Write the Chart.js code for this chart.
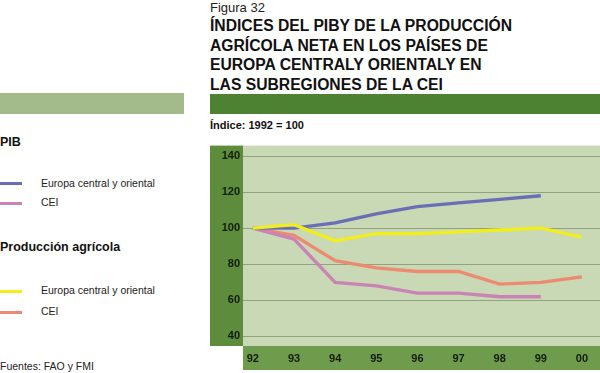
<!DOCTYPE html>
<html>
<head>
<meta charset="utf-8">
<script src="https://cdn.jsdelivr.net/npm/chart.js@4"></script>
<style>
  html, body { margin: 0; padding: 0; background: #fff; }
  body { width: 600px; height: 373px; position: relative; overflow: hidden; font-family: "Liberation Sans", Arial, sans-serif; color: #111; }
  .abs { position: absolute; white-space: nowrap; }
  #figura { left: 210px; top: 0px; font-size: 13px; color: #222; }
  #titulo { left: 210px; top: 16px; font-size: 16px; font-weight: bold; line-height: 19.5px; color: #111; transform-origin: 0 0; transform: scaleX(0.98); }
  #barraTitulo { left: 210px; top: 94px; width: 390px; height: 20px; background: #4c8232; }
  #barraIzq { left: 0; top: 93px; width: 184px; height: 21px; background: #a3ba8b; }
  #indice { left: 210px; top: 119px; font-size: 11px; font-weight: bold; }
  .leyTit { left: 0; font-size: 12.5px; font-weight: bold; }
  .leyTxt { left: 41px; font-size: 10.5px; color: #222; }
  .muestra { left: 0; width: 22px; height: 3px; }
  #fuentes { left: 0; top: 360px; font-size: 10.5px; color: #222; }
  #grafico { position: absolute; left: 210px; top: 136px; width: 390px; height: 234px; }
</style>
</head>
<body>
<div class="abs" id="figura">Figura 32</div>
<div class="abs" id="titulo">ÍNDICES DEL PIBY DE LA PRODUCCIÓN<br>AGRÍCOLA NETA EN LOS PAÍSES DE<br>EUROPA CENTRALY ORIENTALY EN<br>LAS SUBREGIONES DE LA CEI</div>
<div class="abs" id="barraTitulo"></div>
<div class="abs" id="barraIzq"></div>
<div class="abs" id="indice">Índice: 1992 = 100</div>

<div class="abs leyTit" style="top:135px">PIB</div>
<div class="abs muestra" style="top:182px;background:#6a6fb5"></div>
<div class="abs leyTxt" style="top:177px">Europa central y oriental</div>
<div class="abs muestra" style="top:202px;background:#c983b4"></div>
<div class="abs leyTxt" style="top:196px">CEI</div>
<div class="abs leyTit" style="top:240px">Producción agrícola</div>
<div class="abs muestra" style="top:290px;background:#f2ee1e"></div>
<div class="abs leyTxt" style="top:284px">Europa central y oriental</div>
<div class="abs muestra" style="top:311px;background:#ec8a72"></div>
<div class="abs leyTxt" style="top:305px">CEI</div>
<div class="abs" id="fuentes">Fuentes: FAO y FMI</div>

<div id="grafico"><canvas id="c"></canvas></div>

<script>
// years 1992..2000 as numbers (92..100)
const anos = [92, 93, 94, 95, 96, 97, 98, 99, 100];
const pibEuropa = [100, 100, 103, 108, 112, 114, 116, 118];
const pibCEI = [100, 94, 70, 68, 64, 64, 62, 62];
const agrEuropa = [100, 102, 93, 97, 97, 98, 99, 100, 95];
const agrCEI = [100, 96, 82, 78, 76, 76, 69, 70, 73];
const yTicks = [40, 60, 80, 100, 120, 140];

function puntos(vals) {
  return vals.map((v, i) => ({ x: anos[i], y: v }));
}

const fondos = {
  id: 'fondos',
  beforeDraw(chart) {
    const { ctx, chartArea: a } = chart;
    ctx.save();
    ctx.fillStyle = '#c9d8b5';
    ctx.fillRect(a.left, a.top, a.right - a.left, a.bottom - a.top);
    ctx.fillStyle = '#5c8c3c';
    ctx.fillRect(0, a.top, a.left, a.bottom - a.top);
    ctx.fillStyle = '#6f9c4c';
    ctx.fillRect(a.left, a.bottom, a.right - a.left, chart.height - a.bottom);
    ctx.restore();
  }
};

const fuenteEje = { family: '"Liberation Sans", Arial, sans-serif', size: 11, weight: 'bold' };

new Chart(document.getElementById('c'), {
  type: 'line',
  data: {
    datasets: [
      { label: 'PIB Europa central y oriental', data: puntos(pibEuropa), borderColor: '#6a6fb5', order: 2 },
      { label: 'PIB CEI', data: puntos(pibCEI), borderColor: '#c983b4', order: 3 },
      { label: 'Producción agrícola Europa central y oriental', data: puntos(agrEuropa), borderColor: '#f2ee1e', order: 1 },
      { label: 'Producción agrícola CEI', data: puntos(agrCEI), borderColor: '#ec8a72', order: 4 },
    ].map(d => ({ ...d, borderWidth: 3.3, pointRadius: 0, tension: 0, fill: false })),
  },
  options: {
    responsive: true,
    maintainAspectRatio: false,
    animation: false,
    layout: { padding: 0 },
    plugins: { legend: { display: false }, tooltip: { enabled: false } },
    scales: {
      x: {
        type: 'linear',
        min: 91.76,
        max: 100.44,
        afterBuildTicks: (s) => { s.ticks = anos.map(v => ({ value: v })); },
        afterFit: (s) => { s.height = 24; },
        grid: { display: false, drawTicks: false },
        border: { display: false },
        ticks: {
          color: '#141c0c',
          font: fuenteEje,
          padding: 6,
          maxRotation: 0,
          autoSkip: false,
          callback: (v) => String(v % 100).padStart(2, '0'),
        },
      },
      y: {
        min: 34.7,
        max: 145.8,
        afterBuildTicks: (s) => { s.ticks = yTicks.map(v => ({ value: v })); },
        afterFit: (s) => { s.width = 33; },
        grid: { color: '#8fa47c', lineWidth: 1, drawTicks: false },
        border: { display: false },
        ticks: { color: '#141c0c', font: fuenteEje, padding: 3 },
      },
    },
  },
  plugins: [fondos],
});
</script>
</body>
</html>
